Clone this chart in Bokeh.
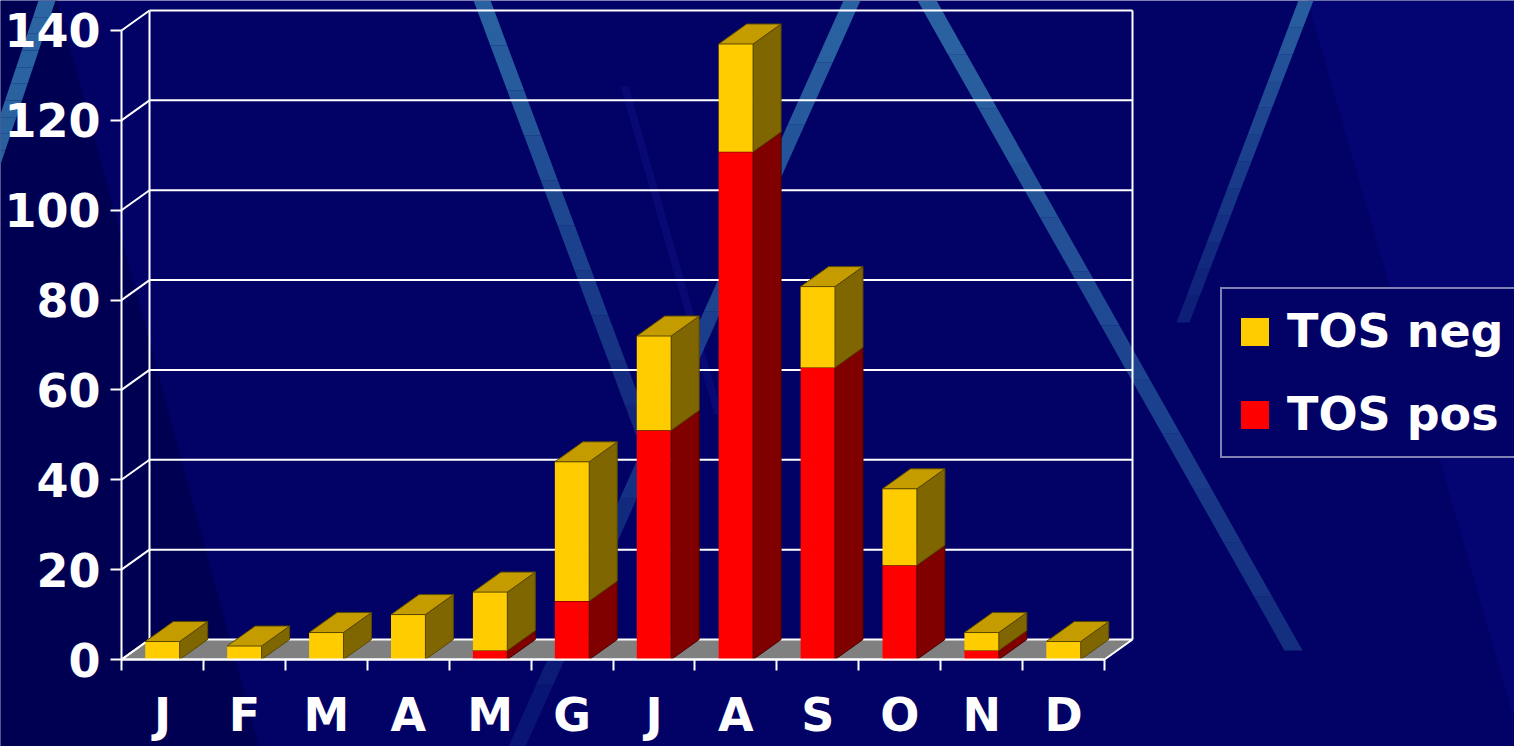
from bokeh.plotting import figure
from bokeh.models import Range1d, LinearAxis, FixedTicker, Legend, LegendItem, ColumnDataSource
from bokeh.embed import file_html
from bokeh.resources import INLINE

# ---------------- data ----------------
months = ["J", "F", "M", "A", "M", "G", "J", "A", "S", "O", "N", "D"]
tos_pos = [0, 0, 0, 0, 2, 13, 51, 113, 65, 21, 2, 0]
tos_neg = [4, 3, 6, 10, 13, 31, 21, 24, 18, 17, 4, 4]
y_ticks = [0, 20, 40, 60, 80, 100, 120, 140]
series_labels = ["TOS neg", "TOS pos"]

# ---------------- styling / geometry ----------------
W, H = 1514, 746
BG = "#020266"
FONT = "DejaVu Sans"
PX_X = 81.917   # pixels per category
PX_Y = 4.4929   # pixels per value unit
DX = 28 / PX_X  # 3-D depth offset (category units)
DY = 20 / PX_Y  # 3-D depth offset (value units)
HALF = 0.21     # half bar width
X0_PX, Y0_PX = 121, 659   # screen position of the front-left bottom corner

def page_to_data(px, py):
    return (-0.5 + (px - X0_PX) / PX_X, (Y0_PX - py) / PX_Y)

x_range = Range1d(-0.5 + (0 - X0_PX) / PX_X, -0.5 + (W - X0_PX) / PX_X)
y_range = Range1d((Y0_PX - H) / PX_Y, Y0_PX / PX_Y)

p = figure(width=W, height=H, x_range=x_range, y_range=y_range,
           output_backend="svg", toolbar_location=None, min_border=0,
           x_axis_type=None, y_axis_type=None,
           background_fill_color=BG, border_fill_color=BG,
           outline_line_color=None)

# ---------------- decorative background ----------------
def poly(points, color, alpha):
    xs, ys = zip(*[page_to_data(a, b) for a, b in points])
    p.patch(list(xs), list(ys), fill_color=color, fill_alpha=alpha, line_color=None)

def stripe(top_l, top_r, bot_l, bot_r, y_top, y_bot, a0, a1, color="#2d6aa6", n=12):
    for k in range(n):
        t0, t1 = k / n, (k + 1) / n
        ya, yb = y_top + (y_bot - y_top) * t0, y_top + (y_bot - y_top) * t1
        la, lb = top_l + (bot_l - top_l) * t0, top_l + (bot_l - top_l) * t1
        ra, rb = top_r + (bot_r - top_r) * t0, top_r + (bot_r - top_r) * t1
        alpha = a0 + (a1 - a0) * (k + 0.5) / n
        poly([(la, ya), (ra, ya), (rb, yb), (lb, yb)], color, alpha)

poly([(-20, 0), (57, 0), (262, 760), (-20, 760)], "#00004c", 0.7)
poly([(1307, 0), (1530, 0), (1530, 760), (1520, 740)], "#07077c", 0.6)
poly([(620, 86), (628, 86), (722, 414), (714, 414)], "#1a1a99", 0.3)

# light diagonal stripes
stripe(38, 55, -29, -12, 0, 200, 0.95, 0.9)
stripe(473, 490, 675, 692, 0, 540, 0.95, 0.2)
stripe(843, 860, 508, 525, 0, 746, 0.95, 0.15)
stripe(917, 936, 1284, 1302, 0, 650, 0.95, 0.4)
stripe(1298, 1313, 1176, 1189, 0, 322, 0.9, 0.25)

# ---------------- 3-D walls and floor ----------------
x_lo, x_hi = -0.5, len(months) - 0.5
top_v = y_ticks[-1]
floor_xs = [x_lo, x_hi, x_hi + DX, x_lo + DX]
floor_ys = [0, 0, DY, DY]
p.patch(floor_xs, floor_ys, fill_color="#808080", line_color="white", line_width=2)

grid_v = y_ticks[1:]
p.segment(x0=[x_lo + DX] * len(grid_v), y0=[v + DY for v in grid_v],
          x1=[x_hi + DX] * len(grid_v), y1=[v + DY for v in grid_v],
          line_color="white", line_width=2)
p.segment(x0=[x_lo] * len(y_ticks), y0=y_ticks,
          x1=[x_lo + DX] * len(y_ticks), y1=[v + DY for v in y_ticks],
          line_color="white", line_width=2)
p.segment(x0=[x_lo + DX, x_hi + DX], y0=[DY, DY],
          x1=[x_lo + DX, x_hi + DX], y1=[top_v + DY, top_v + DY],
          line_color="white", line_width=2)

# ---------------- 3-D stacked bars ----------------
def faces(bottoms, tops):
    front = dict(left=[], right=[], bottom=[], top=[])
    side = dict(xs=[], ys=[])
    topf = dict(xs=[], ys=[])
    for i, (b, t) in enumerate(zip(bottoms, tops)):
        if t <= b:
            continue
        x0, x1 = i - HALF, i + HALF
        front["left"].append(x0); front["right"].append(x1)
        front["bottom"].append(b); front["top"].append(t)
        side["xs"].append([x1, x1 + DX, x1 + DX, x1])
        side["ys"].append([b, b + DY, t + DY, t])
        topf["xs"].append([x0, x1, x1 + DX, x0 + DX])
        topf["ys"].append([t, t, t + DY, t + DY])
    return front, side, topf

pos_bottom = [0] * len(months)
pos_top = list(tos_pos)
neg_bottom = pos_top
neg_top = [a + b for a, b in zip(tos_pos, tos_neg)]

rf, rs, rt = faces(pos_bottom, pos_top)
yf, ys_, yt = faces(neg_bottom, neg_top)

red_front = p.quad(source=ColumnDataSource(rf), left="left", right="right",
                   bottom="bottom", top="top", fill_color="#FF0000", line_color=None)
p.patches(source=ColumnDataSource(rs), xs="xs", ys="ys", fill_color="#800000",
          line_color="#500000", line_width=1)
p.patches(source=ColumnDataSource(rt), xs="xs", ys="ys", fill_color="#C00000",
          line_color="#500000", line_width=1)

yel_front = p.quad(source=ColumnDataSource(yf), left="left", right="right",
                   bottom="bottom", top="top", fill_color="#FFCC00", line_color=None)
p.patches(source=ColumnDataSource(ys_), xs="xs", ys="ys", fill_color="#806600",
          line_color="#5a4800", line_width=1)
p.patches(source=ColumnDataSource(yt), xs="xs", ys="ys", fill_color="#C49C00",
          line_color="#5a4800", line_width=1)

# ---------------- axes ----------------
yaxis = LinearAxis(ticker=FixedTicker(ticks=y_ticks, minor_ticks=[]),
                   fixed_location=x_lo, bounds=(0, top_v))
yaxis.axis_line_color = "white"
yaxis.axis_line_width = 2
yaxis.major_tick_line_color = "white"
yaxis.major_tick_line_width = 2
yaxis.major_tick_out = 11
yaxis.major_tick_in = 0
yaxis.minor_tick_line_color = None
yaxis.major_label_text_font = FONT
yaxis.major_label_text_font_style = "bold"
yaxis.major_label_text_font_size = "46px"
yaxis.major_label_text_color = "white"
yaxis.major_label_standoff = 10
p.add_layout(yaxis, "left")

xaxis = LinearAxis(ticker=FixedTicker(ticks=list(range(len(months))),
                                      minor_ticks=[i - 0.5 for i in range(len(months) + 1)]),
                   fixed_location=0, bounds=(x_lo, x_hi),
                   major_label_overrides={i: m for i, m in enumerate(months)})
xaxis.axis_line_color = "white"
xaxis.axis_line_width = 2
xaxis.major_tick_out = 0
xaxis.major_tick_in = 0
xaxis.major_tick_line_color = None
xaxis.minor_tick_out = 11
xaxis.minor_tick_in = 0
xaxis.minor_tick_line_color = "white"
xaxis.minor_tick_line_width = 2
xaxis.major_label_text_font = FONT
xaxis.major_label_text_font_style = "bold"
xaxis.major_label_text_font_size = "46px"
xaxis.major_label_text_color = "white"
xaxis.major_label_standoff = 17
p.add_layout(xaxis, "below")

# ---------------- legend ----------------
legend = Legend(items=[LegendItem(label=series_labels[0], renderers=[yel_front]),
                       LegendItem(label=series_labels[1], renderers=[red_front])],
                location=(1220, H - 458))
legend.label_text_font = FONT
legend.label_text_font_style = "bold"
legend.label_text_font_size = "46px"
legend.label_text_color = "white"
legend.glyph_width = 35
legend.glyph_height = 35
legend.label_standoff = 15
legend.padding = 15
legend.spacing = 29
legend.margin = 0
legend.border_line_color = "white"
legend.border_line_width = 2
legend.background_fill_color = BG
legend.background_fill_alpha = 1.0
p.add_layout(legend)

open("out.html", "w").write(file_html(p, INLINE))
